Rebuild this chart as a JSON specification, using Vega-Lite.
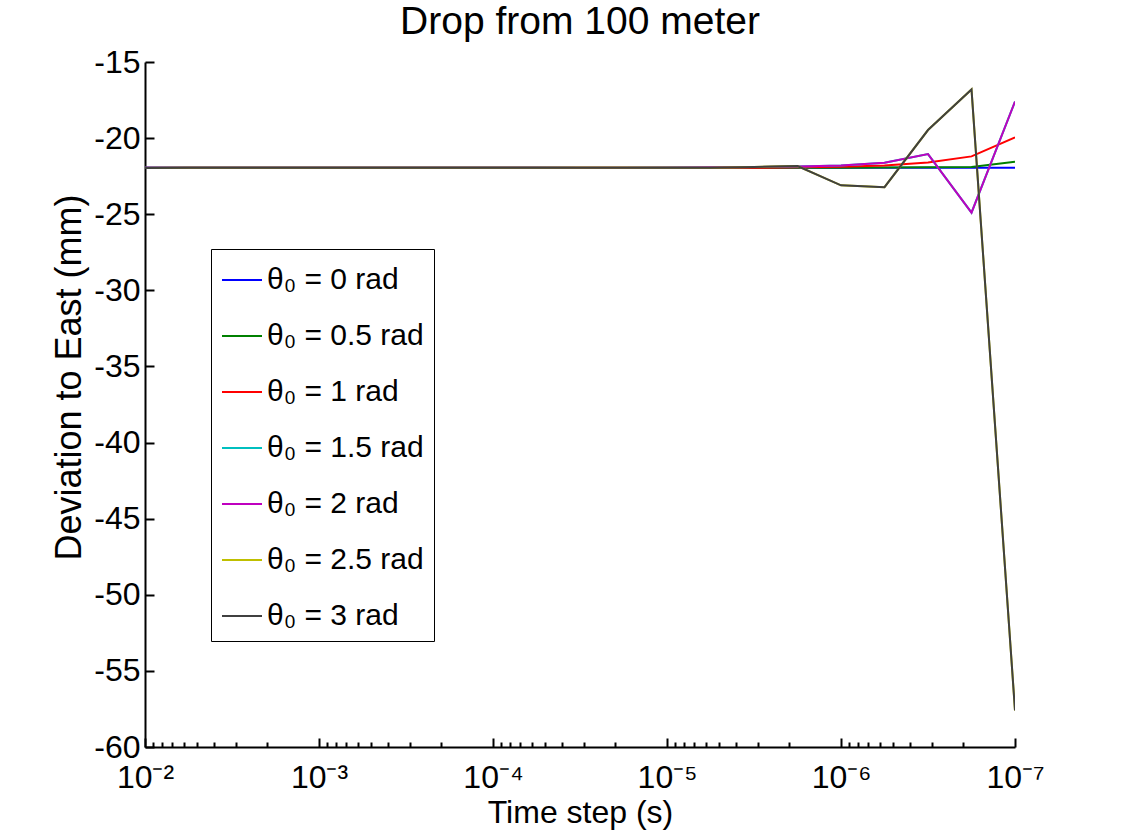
{
  "$schema": "https://vega.github.io/schema/vega-lite/v6.json",
  "autosize": {"type": "none"},
  "padding": {"left": 145, "top": 62, "right": 106, "bottom": 93},
  "width": 870,
  "height": 685,
  "background": "white",
  "config": {
    "view": {"stroke": null},
    "font": "Liberation Sans"
  },
  "title": {
    "text": "Drop from 100 meter",
    "anchor": "middle",
    "frame": "group",
    "font": "Liberation Sans",
    "fontSize": 39,
    "fontWeight": "normal",
    "color": "black",
    "offset": 4
  },
  "data": {
    "values": [
      {"t":0.01,"v":-21.95,"s":"0"},{"t":0.005623,"v":-21.95,"s":"0"},{"t":0.003162,"v":-21.95,"s":"0"},{"t":0.001778,"v":-21.95,"s":"0"},{"t":0.001,"v":-21.95,"s":"0"},{"t":0.0005623,"v":-21.95,"s":"0"},{"t":0.0003162,"v":-21.95,"s":"0"},{"t":0.0001778,"v":-21.95,"s":"0"},{"t":0.0001,"v":-21.95,"s":"0"},{"t":5.623e-5,"v":-21.95,"s":"0"},{"t":3.162e-5,"v":-21.95,"s":"0"},{"t":1.778e-5,"v":-21.95,"s":"0"},{"t":1e-5,"v":-21.95,"s":"0"},{"t":5.623e-6,"v":-21.95,"s":"0"},{"t":3.162e-6,"v":-21.95,"s":"0"},{"t":1.778e-6,"v":-21.95,"s":"0"},{"t":1e-6,"v":-21.95,"s":"0"},{"t":5.623e-7,"v":-21.95,"s":"0"},{"t":3.162e-7,"v":-21.95,"s":"0"},{"t":1.778e-7,"v":-21.95,"s":"0"},{"t":1e-7,"v":-21.95,"s":"0"},

      {"t":0.01,"v":-21.95,"s":"0.5"},{"t":0.005623,"v":-21.95,"s":"0.5"},{"t":0.003162,"v":-21.95,"s":"0.5"},{"t":0.001778,"v":-21.95,"s":"0.5"},{"t":0.001,"v":-21.95,"s":"0.5"},{"t":0.0005623,"v":-21.95,"s":"0.5"},{"t":0.0003162,"v":-21.95,"s":"0.5"},{"t":0.0001778,"v":-21.95,"s":"0.5"},{"t":0.0001,"v":-21.95,"s":"0.5"},{"t":5.623e-5,"v":-21.95,"s":"0.5"},{"t":3.162e-5,"v":-21.95,"s":"0.5"},{"t":1.778e-5,"v":-21.95,"s":"0.5"},{"t":1e-5,"v":-21.95,"s":"0.5"},{"t":5.623e-6,"v":-21.95,"s":"0.5"},{"t":3.162e-6,"v":-21.95,"s":"0.5"},{"t":1.778e-6,"v":-21.95,"s":"0.5"},{"t":1e-6,"v":-21.95,"s":"0.5"},{"t":5.623e-7,"v":-21.93,"s":"0.5"},{"t":3.162e-7,"v":-21.92,"s":"0.5"},{"t":1.778e-7,"v":-21.9,"s":"0.5"},{"t":1e-7,"v":-21.55,"s":"0.5"},

      {"t":0.01,"v":-21.95,"s":"1"},{"t":0.005623,"v":-21.95,"s":"1"},{"t":0.003162,"v":-21.95,"s":"1"},{"t":0.001778,"v":-21.95,"s":"1"},{"t":0.001,"v":-21.95,"s":"1"},{"t":0.0005623,"v":-21.95,"s":"1"},{"t":0.0003162,"v":-21.95,"s":"1"},{"t":0.0001778,"v":-21.95,"s":"1"},{"t":0.0001,"v":-21.95,"s":"1"},{"t":5.623e-5,"v":-21.95,"s":"1"},{"t":3.162e-5,"v":-21.95,"s":"1"},{"t":1.778e-5,"v":-21.95,"s":"1"},{"t":1e-5,"v":-21.95,"s":"1"},{"t":5.623e-6,"v":-21.95,"s":"1"},{"t":3.162e-6,"v":-21.95,"s":"1"},{"t":1.778e-6,"v":-21.92,"s":"1"},{"t":1e-6,"v":-21.88,"s":"1"},{"t":5.623e-7,"v":-21.8,"s":"1"},{"t":3.162e-7,"v":-21.6,"s":"1"},{"t":1.778e-7,"v":-21.2,"s":"1"},{"t":1e-7,"v":-19.95,"s":"1"},

      {"t":0.01,"v":-21.95,"s":"1.5"},{"t":0.005623,"v":-21.95,"s":"1.5"},{"t":0.003162,"v":-21.95,"s":"1.5"},{"t":0.001778,"v":-21.95,"s":"1.5"},{"t":0.001,"v":-21.95,"s":"1.5"},{"t":0.0005623,"v":-21.95,"s":"1.5"},{"t":0.0003162,"v":-21.95,"s":"1.5"},{"t":0.0001778,"v":-21.95,"s":"1.5"},{"t":0.0001,"v":-21.95,"s":"1.5"},{"t":5.623e-5,"v":-21.95,"s":"1.5"},{"t":3.162e-5,"v":-21.97,"s":"1.5"},{"t":1.778e-5,"v":-21.97,"s":"1.5"},{"t":1e-5,"v":-21.95,"s":"1.5"},{"t":5.623e-6,"v":-21.92,"s":"1.5"},{"t":3.162e-6,"v":-21.9,"s":"1.5"},{"t":1.778e-6,"v":-21.86,"s":"1.5"},{"t":1e-6,"v":-21.8,"s":"1.5"},{"t":5.623e-7,"v":-21.62,"s":"1.5"},{"t":3.162e-7,"v":-21.05,"s":"1.5"},{"t":1.778e-7,"v":-24.9,"s":"1.5"},{"t":1e-7,"v":-17.6,"s":"1.5"},

      {"t":0.01,"v":-21.95,"s":"2"},{"t":0.005623,"v":-21.95,"s":"2"},{"t":0.003162,"v":-21.95,"s":"2"},{"t":0.001778,"v":-21.95,"s":"2"},{"t":0.001,"v":-21.95,"s":"2"},{"t":0.0005623,"v":-21.95,"s":"2"},{"t":0.0003162,"v":-21.95,"s":"2"},{"t":0.0001778,"v":-21.95,"s":"2"},{"t":0.0001,"v":-21.95,"s":"2"},{"t":5.623e-5,"v":-21.95,"s":"2"},{"t":3.162e-5,"v":-21.97,"s":"2"},{"t":1.778e-5,"v":-21.97,"s":"2"},{"t":1e-5,"v":-21.95,"s":"2"},{"t":5.623e-6,"v":-21.92,"s":"2"},{"t":3.162e-6,"v":-21.9,"s":"2"},{"t":1.778e-6,"v":-21.86,"s":"2"},{"t":1e-6,"v":-21.8,"s":"2"},{"t":5.623e-7,"v":-21.62,"s":"2"},{"t":3.162e-7,"v":-21.05,"s":"2"},{"t":1.778e-7,"v":-24.9,"s":"2"},{"t":1e-7,"v":-17.6,"s":"2"},

      {"t":0.01,"v":-21.97,"s":"2.5"},{"t":0.005623,"v":-21.95,"s":"2.5"},{"t":0.003162,"v":-21.95,"s":"2.5"},{"t":0.001778,"v":-21.95,"s":"2.5"},{"t":0.001,"v":-21.95,"s":"2.5"},{"t":0.0005623,"v":-21.95,"s":"2.5"},{"t":0.0003162,"v":-21.95,"s":"2.5"},{"t":0.0001778,"v":-21.95,"s":"2.5"},{"t":0.0001,"v":-21.95,"s":"2.5"},{"t":5.623e-5,"v":-21.95,"s":"2.5"},{"t":3.162e-5,"v":-21.95,"s":"2.5"},{"t":1.778e-5,"v":-21.95,"s":"2.5"},{"t":1e-5,"v":-21.95,"s":"2.5"},{"t":5.623e-6,"v":-21.95,"s":"2.5"},{"t":3.162e-6,"v":-21.9,"s":"2.5"},{"t":1.778e-6,"v":-21.83,"s":"2.5"},{"t":1e-6,"v":-23.1,"s":"2.5"},{"t":5.623e-7,"v":-23.22,"s":"2.5"},{"t":3.162e-7,"v":-19.47,"s":"2.5"},{"t":1.778e-7,"v":-16.8,"s":"2.5"},{"t":1e-7,"v":-57.6,"s":"2.5"},

      {"t":0.01,"v":-21.97,"s":"3"},{"t":0.005623,"v":-21.95,"s":"3"},{"t":0.003162,"v":-21.95,"s":"3"},{"t":0.001778,"v":-21.95,"s":"3"},{"t":0.001,"v":-21.95,"s":"3"},{"t":0.0005623,"v":-21.95,"s":"3"},{"t":0.0003162,"v":-21.95,"s":"3"},{"t":0.0001778,"v":-21.95,"s":"3"},{"t":0.0001,"v":-21.95,"s":"3"},{"t":5.623e-5,"v":-21.95,"s":"3"},{"t":3.162e-5,"v":-21.95,"s":"3"},{"t":1.778e-5,"v":-21.95,"s":"3"},{"t":1e-5,"v":-21.95,"s":"3"},{"t":5.623e-6,"v":-21.95,"s":"3"},{"t":3.162e-6,"v":-21.9,"s":"3"},{"t":1.778e-6,"v":-21.83,"s":"3"},{"t":1e-6,"v":-23.1,"s":"3"},{"t":5.623e-7,"v":-23.22,"s":"3"},{"t":3.162e-7,"v":-19.47,"s":"3"},{"t":1.778e-7,"v":-16.8,"s":"3"},{"t":1e-7,"v":-57.6,"s":"3"}
    ]
  },
  "mark": {"type": "line", "strokeWidth": 2, "clip": true},
  "encoding": {
    "x": {
      "field": "t",
      "type": "quantitative",
      "scale": {"type": "log", "domain": [1e-7, 0.01], "reverse": true, "nice": false},
      "axis": {
        "title": "Time step (s)",
        "titleFont": "Liberation Sans",
        "titleFontSize": 32,
        "titleFontWeight": "normal",
        "titleColor": "black",
        "titlePadding": 0,
        "grid": false,
        "domainColor": "black",
        "domainWidth": 2,
        "tickColor": "black",
        "tickWidth": 2,
        "tickSize": {"condition": {"test": "abs(log(datum.value)/LN10 - round(log(datum.value)/LN10)) < 0.001", "value": -9}, "value": -5},
        "values": [0.01, 0.009, 0.008, 0.007, 0.006, 0.005, 0.004, 0.003, 0.002, 0.001, 0.0009, 0.0008, 0.0007, 0.0006, 0.0005, 0.0004, 0.0003, 0.0002, 0.0001, 9e-5, 8e-5, 7e-5, 6e-5, 5e-5, 4e-5, 3e-5, 2e-5, 1e-5, 9e-6, 8e-6, 7e-6, 6e-6, 5e-6, 4e-6, 3e-6, 2e-6, 1e-6, 9e-7, 8e-7, 7e-7, 6e-7, 5e-7, 4e-7, 3e-7, 2e-7, 1e-7],
        "labelExpr": "abs(log(datum.value)/LN10 - round(log(datum.value)/LN10)) < 0.001 ? '10⁻' + ['⁰','¹','²','³','⁴','⁵','⁶','⁷','⁸','⁹'][-round(log(datum.value)/LN10)] : ''",
        "labelFont": "Liberation Sans",
        "labelFontSize": 32,
        "labelColor": "black",
        "labelPadding": 24,
        "labelOverlap": false,
        "labelFlush": false,
        "labelBound": false
      }
    },
    "y": {
      "field": "v",
      "type": "quantitative",
      "scale": {"domain": [-60, -15], "nice": false, "zero": false},
      "axis": {
        "title": "Deviation to East (mm)",
        "titleFont": "Liberation Sans",
        "titleFontSize": 36,
        "titleFontWeight": "normal",
        "titleColor": "black",
        "titleAngle": 270,
        "titleAlign": "center",
        "titleBaseline": "bottom",
        "titleX": -57,
        "titleY": 315,
        "grid": false,
        "domainColor": "black",
        "domainWidth": 2,
        "tickColor": "black",
        "tickWidth": 2,
        "tickSize": -9,
        "values": [-60, -55, -50, -45, -40, -35, -30, -25, -20, -15],
        "labelExpr": "replace(datum.label, '−', '-')",
        "labelFont": "Liberation Sans",
        "labelFontSize": 32,
        "labelColor": "black",
        "labelPadding": 14,
        "labelOverlap": false,
        "labelFlush": false,
        "labelBound": false
      }
    },
    "color": {
      "field": "s",
      "type": "nominal",
      "scale": {
        "domain": ["0", "0.5", "1", "1.5", "2", "2.5", "3"],
        "range": ["#0000ff", "#008000", "#ff0000", "#00bfbf", "#bf00bf", "#bfbf00", "#404040"]
      },
      "legend": {
        "title": null,
        "orient": "none",
        "legendX": 66,
        "legendY": 187,
        "labelExpr": "'θ₀ = ' + datum.label + ' rad'",
        "labelFont": "Liberation Sans",
        "labelFontSize": 30,
        "labelColor": "black",
        "labelLimit": 0,
        "labelOffset": 4,
        "symbolType": "stroke",
        "symbolSize": 1600,
        "symbolStrokeWidth": 2,
        "rowPadding": 20,
        "padding": 10,
        "strokeColor": "black",
        "fillColor": "white"
      }
    }
  }
}
